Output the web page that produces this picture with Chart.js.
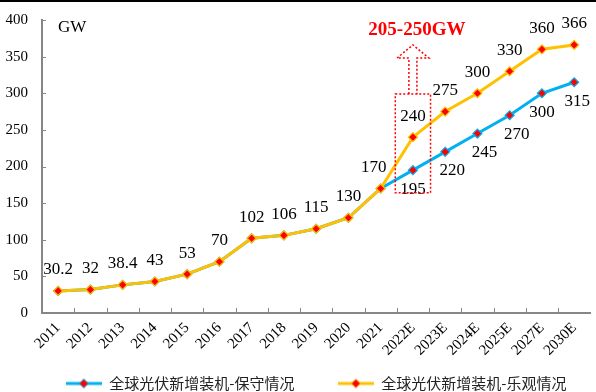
<!DOCTYPE html>
<html>
<head>
    <meta charset="utf-8">
    <title>全球光伏新增装机</title>
    <script src="https://cdn.jsdelivr.net/npm/chart.js"></script>
    <style>
        html, body { margin: 0; padding: 0; background: #fff; }
        #wrap { width: 596px; height: 392px; position: relative; }
    </style>
</head>
<body>
    <div id="wrap"><canvas id="pvChart"></canvas></div>
    <script>
        // categories and series (GW)
        const years = ['2011', '2012', '2013', '2014', '2015', '2016', '2017', '2018', '2019', '2020', '2021',
                       '2022E', '2023E', '2024E', '2025E', '2027E', '2030E'];
        const conservative = [30.2, 32, 38.4, 43, 53, 70, 102, 106, 115, 130, 170, 195, 220, 245, 270, 300, 315];
        const optimistic   = [30.2, 32, 38.4, 43, 53, 70, 102, 106, 115, 130, 170, 240, 275, 300, 330, 360, 366];
        const seriesNames = ['全球光伏新增装机-保守情况', '全球光伏新增装机-乐观情况'];
        const yTicks = [0, 50, 100, 150, 200, 250, 300, 350, 400];
        const unitLabel = 'GW';
        const rangeText = '205-250GW';
        // annotation around 2022E, in axis values
        const rangeIndex = 11;
        const rangeBox = [164, 299];
        const rangeArrow = [348, 366];
        const rangeTextValue = 386;

        const BLUE = '#00B0F0';
        const ORANGE = '#FFC000';
        const RED = '#FF0000';
        const AXIS = '#868686';

        Chart.defaults.font.family = "'Liberation Serif', 'Times New Roman', serif";
        Chart.defaults.color = '#000';

        function legendIcon(color) {
            const c = document.createElement('canvas');
            c.width = 36; c.height = 12;
            const g = c.getContext('2d');
            g.strokeStyle = color; g.lineWidth = 3;
            g.beginPath(); g.moveTo(0, 6); g.lineTo(36, 6); g.stroke();
            g.fillStyle = RED; g.lineWidth = 1;
            g.beginPath();
            g.moveTo(18, 1.5); g.lineTo(22.5, 6); g.lineTo(18, 10.5); g.lineTo(13.5, 6);
            g.closePath(); g.fill(); g.stroke();
            return c;
        }
        const legendIcons = [legendIcon(BLUE), legendIcon(ORANGE)];

        // top rule, inner tick marks, unit label and the 2022E range annotation
        const decorPlugin = {
            id: 'decor',
            beforeDraw(chart) {
                const ctx = chart.ctx;
                ctx.save();
                ctx.fillStyle = '#fff';
                ctx.fillRect(0, 0, chart.width, chart.height);
                ctx.fillStyle = '#000';
                ctx.fillRect(0, 0, chart.width, 2);
                ctx.restore();
            },
            afterDraw(chart) {
                const ctx = chart.ctx;
                const x = chart.scales.x, y = chart.scales.y;
                const area = chart.chartArea;
                ctx.save();
                ctx.strokeStyle = AXIS;
                ctx.lineWidth = 1;
                yTicks.forEach(v => {
                    const py = Math.round(y.getPixelForValue(v)) + 0.5;
                    ctx.beginPath(); ctx.moveTo(area.left, py); ctx.lineTo(area.left + 4, py); ctx.stroke();
                });
                const half = (x.getPixelForValue(1) - x.getPixelForValue(0)) / 2;
                for (let i = 1; i < years.length; i++) {
                    const px = Math.round(x.getPixelForValue(i) - half) + 0.5;
                    ctx.beginPath(); ctx.moveTo(px, area.bottom); ctx.lineTo(px, area.bottom - 5); ctx.stroke();
                }

                ctx.fillStyle = '#000';
                ctx.font = "17px 'Liberation Serif'";
                ctx.textBaseline = 'middle';
                ctx.textAlign = 'left';
                ctx.fillText(unitLabel, area.left + 16, y.getPixelForValue(390));

                // dotted box + hollow arrow
                const cx = x.getPixelForValue(rangeIndex);
                const bw = half + 1.5;
                const top = y.getPixelForValue(rangeBox[1]);
                const bottom = y.getPixelForValue(rangeBox[0]);
                const base = y.getPixelForValue(rangeArrow[0]);
                const tip = y.getPixelForValue(rangeArrow[1]);
                ctx.strokeStyle = RED;
                ctx.lineWidth = 1.5;
                ctx.setLineDash([2, 2]);
                ctx.strokeRect(cx - bw, top, bw * 2, bottom - top);
                ctx.beginPath();
                ctx.moveTo(cx - 4, top);
                ctx.lineTo(cx - 4, base);
                ctx.lineTo(cx - 16, base);
                ctx.lineTo(cx, tip);
                ctx.lineTo(cx + 16, base);
                ctx.lineTo(cx + 4, base);
                ctx.lineTo(cx + 4, top);
                ctx.stroke();
                ctx.setLineDash([]);

                ctx.fillStyle = RED;
                ctx.font = "bold 19px 'Liberation Serif'";
                ctx.textAlign = 'center';
                ctx.fillText(rangeText, cx + 4, y.getPixelForValue(rangeTextValue));
                ctx.restore();
            }
        };

        // value labels: optimistic above, conservative (where it splits off) below
        const valueLabelPlugin = {
            id: 'valueLabels',
            afterDatasetsDraw(chart) {
                const ctx = chart.ctx;
                ctx.save();
                ctx.font = "17px 'Liberation Serif'";
                ctx.fillStyle = '#000';
                ctx.textAlign = 'center';
                ctx.textBaseline = 'middle';
                const cons = chart.getDatasetMeta(0).data;
                const opt = chart.getDatasetMeta(1).data;
                opt.forEach((pt, i) => {
                    const dx = i === 10 ? -7 : 0;
                    ctx.fillText(String(optimistic[i]), pt.x + dx, pt.y - 21);
                });
                cons.forEach((pt, i) => {
                    if (i <= 10) return;
                    const dx = (i >= 12 && i <= 14) ? 7 : (i === 16 ? 3 : 0);
                    ctx.fillText(String(conservative[i]), pt.x + dx, pt.y + 19);
                });
                ctx.restore();
            }
        };

        function series(label, data, color, order) {
            return {
                label: label,
                data: data,
                borderColor: color,
                backgroundColor: RED,
                borderWidth: 3,
                pointStyle: 'rectRot',
                pointRadius: 4.5,
                pointBorderColor: color,
                pointBorderWidth: 1.2,
                pointBackgroundColor: RED,
                tension: 0,
                order: order
            };
        }

        new Chart(document.getElementById('pvChart'), {
            type: 'line',
            data: {
                labels: years,
                datasets: [
                    series(seriesNames[0], conservative, BLUE, 2),
                    series(seriesNames[1], optimistic, ORANGE, 1)
                ]
            },
            options: {
                responsive: true,
                maintainAspectRatio: false,
                animation: false,
                layout: { padding: { top: 20, bottom: -9, left: 0, right: 0 } },
                plugins: {
                    tooltip: { enabled: false },
                    legend: {
                        position: 'bottom',
                        fullSize: false,
                        labels: {
                            usePointStyle: true,
                            pointStyleWidth: 36,
                            padding: 10,
                            font: { family: "'Noto Sans CJK SC'", size: 15 },
                            color: '#222',
                            sort: (a, b) => a.datasetIndex - b.datasetIndex,
                            generateLabels(chart) {
                                const items = Chart.defaults.plugins.legend.labels.generateLabels(chart);
                                items.sort((a, b) => a.datasetIndex - b.datasetIndex);
                                items.forEach(it => {
                                    it.pointStyle = legendIcons[it.datasetIndex];
                                    if (it.datasetIndex === 0) it.text = it.text + '\u3000\u3000 ';
                                });
                                return items;
                            }
                        }
                    }
                },
                scales: {
                    x: {
                        offset: true,
                        grid: { display: false, drawTicks: false },
                        border: { display: true, color: AXIS, width: 2 },
                        ticks: {
                            minRotation: 45,
                            maxRotation: 45,
                            padding: 6,
                            autoSkip: false,
                            font: { size: 15 }
                        },
                        afterFit(scale) {
                            scale.height = 53;
                            scale.paddingLeft = 0;
                            scale.paddingRight = 0;
                        }
                    },
                    y: {
                        min: 0,
                        max: 400,
                        afterBuildTicks(scale) {
                            scale.ticks = yTicks.map(v => ({ value: v }));
                        },
                        grid: { display: false, drawTicks: false },
                        border: { display: true, color: AXIS, width: 2 },
                        ticks: { padding: 14, font: { size: 15 } },
                        afterFit(scale) {
                            scale.width = 42;
                            scale.paddingTop = 0;
                            scale.paddingBottom = 0;
                        }
                    }
                }
            },
            plugins: [decorPlugin, valueLabelPlugin]
        });
    </script>
</body>
</html>
